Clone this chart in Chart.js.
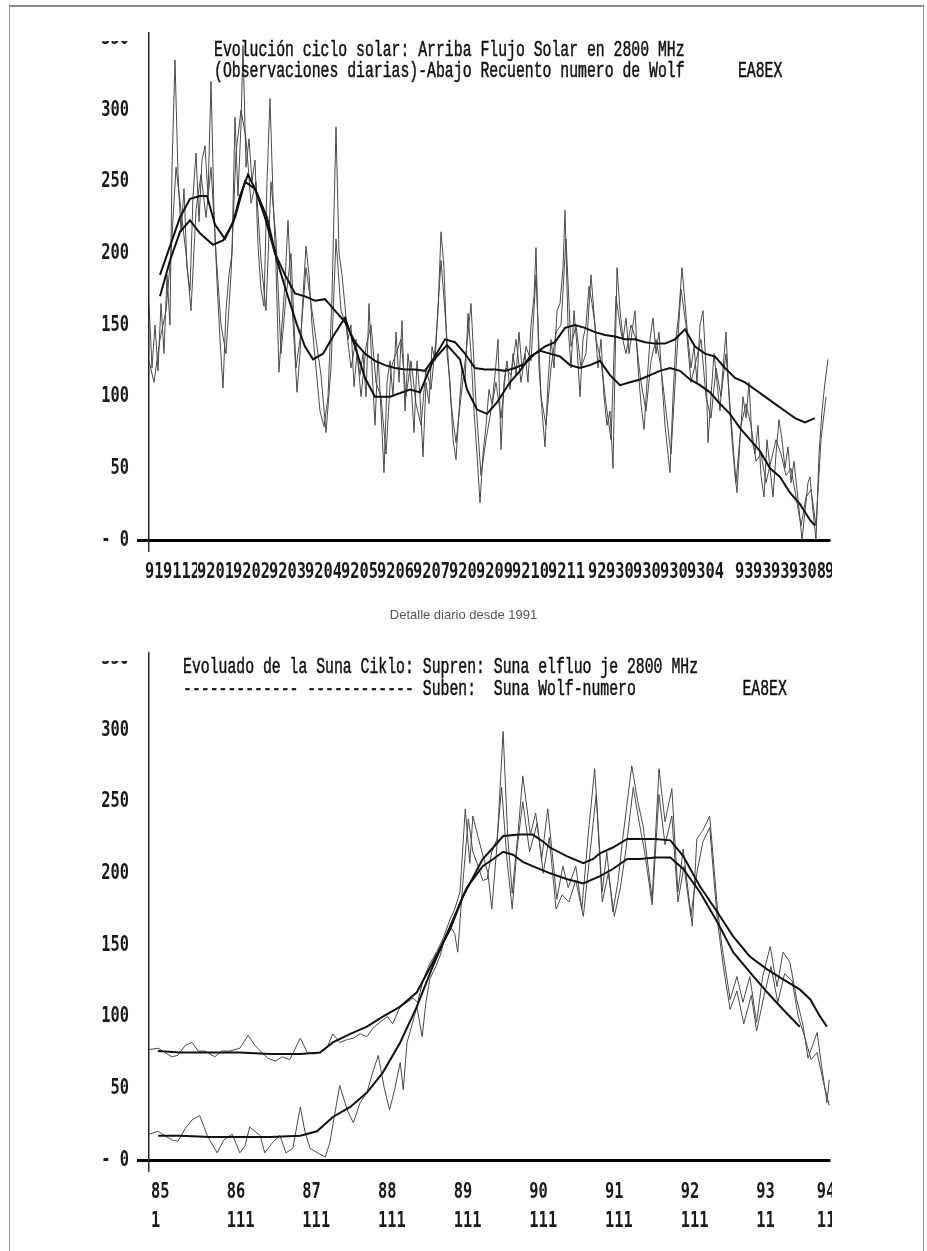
<!DOCTYPE html>
<html>
<head>
<meta charset="utf-8">
<script src="https://cdn.jsdelivr.net/npm/chart.js@4"></script>
<style>
html,body{margin:0;padding:0;background:#fff;}
body{width:927px;height:1251px;position:relative;overflow:hidden;}
#frame{position:absolute;left:9px;top:5px;width:913px;height:1260px;border-top:2px solid #8c8c8c;border-left:1px solid #9a9a9a;border-right:1px solid #9a9a9a;}
canvas{position:absolute;left:0;}
#c1{top:0;}
#c2{top:600px;}
.t{position:absolute;font-family:'Liberation Mono','DejaVu Sans Mono',monospace;font-size:14.8px;line-height:16px;white-space:pre;color:#111;-webkit-text-stroke:0.35px #111;transform:scaleY(1.5);transform-origin:0 50%;}
.mask{position:absolute;background:#fff;}
#cap{position:absolute;left:0;width:927px;top:607px;text-align:center;font:13px 'Liberation Sans',Arial,sans-serif;color:#555;}
</style>
</head>
<body>
<div id="frame"></div>
<canvas id="c1" width="832" height="600"></canvas>
<canvas id="c2" width="832" height="651"></canvas>
<div class="mask" style="left:92px;top:9px;width:48px;height:32px;"></div>
<div class="mask" style="left:92px;top:630px;width:48px;height:31px;"></div>
<div class="t" style="left:214px;top:42px;">Evolución ciclo solar: Arriba Flujo Solar en 2800 MHz</div>
<div class="t" style="left:214px;top:63px;">(Observaciones diarias)-Abajo Recuento numero de Wolf      EA8EX</div>
<div id="cap">Detalle diario desde 1991</div>
<div class="t" style="left:183px;top:659px;">Evoluado de la Suna Ciklo: Supren: Suna elfluo je 2800 MHz</div>
<div class="t" style="left:183px;top:681px;">------------- ------------ Suben:  Suna Wolf-numero            EA8EX</div>
<script>
// ---------------- TOP CHART (daily, day index since start of Nov 1991) ----------------
const topTickDays   = [0,18,52,88,124,160,196,232,268,304,331,367,403,443,461,488,515,542,590,608,626,644,680];
const topTickLabels = ["9111","9112","9201","9202","9203","9204","9205","9206","9207","9208","9209","9210","9211","9212","9301","9302","9303","9304","9305","9306","9307","9308","9309"];
const yTickValues   = [0,50,100,150,200,250,300,350];

const topFluxDays = [0,3,6,9,12,15,18,21,23,26,29,32,35,38,41,44,47,50,53,56,59,62,65,68,71,74,77,80,83,86,89,92,94,97,100,103,106,109,112,115,118,121,124,127,130,133,136,139,142,145,148,151,154,157,160,163,167,171,175,179,183,187,190,193,196,199,202,205,208,211,214,217,220,223,226,229,232,235,238,241,244,247,250,253,256,259,262,265,268,271,274,277,280,283,286,289,292,295,298,301,304,307,310,313,316,319,322,325,328,331,334,337,340,343,346,349,352,355,358,361,364,367,370,373,376,379,382,385,387,390,393,396,399,402,405,408,411,414,416,419,422,425,428,431,434,437,440,443,446,449,452,455,458,461,464,468,471,474,477,480,483,486,489,492,495,498,501,504,507,510,513,516,519,521,524,527,530,533,536,539,542,545,548,551,554,557,559,562,565,568,571,574,577,580,583,586,588,591,594,597,600,603,606,609,612,615,618,621,624,627,630,633,636,639,642,645,648,651,653,656,659,661,664,667,670,673,676,679];
const topFlux = [165,120,150,118,165,130,185,150,260,335,255,215,245,190,174,240,270,222,265,275,240,320,230,180,140,106,160,185,200,295,240,290,345,260,280,250,265,205,175,163,250,308,240,190,117,150,180,223,175,140,103,130,170,205,185,150,120,90,79,100,170,288,200,185,163,140,150,107,130,115,130,100,165,120,80,130,90,47,110,125,100,145,110,153,90,130,110,75,125,100,58,110,95,135,125,160,215,190,130,110,70,56,90,120,110,158,130,90,60,26,60,80,105,95,115,140,63,110,125,105,130,115,145,120,130,110,150,170,204,120,90,65,110,140,120,160,165,190,230,150,120,160,135,100,140,150,177,165,150,120,140,100,80,90,50,190,160,140,155,130,145,160,120,95,77,110,140,155,130,145,110,80,60,47,100,140,160,190,165,140,120,135,110,150,160,120,68,100,130,110,90,120,145,100,70,45,33,70,100,85,110,70,60,80,45,30,70,50,30,60,84,70,50,65,40,55,35,15,0,20,40,44,20,0,60,90,110,126];

const topWolfDays = [0,5,11,17,22,27,32,37,42,47,52,57,62,67,72,77,82,87,92,97,102,107,112,117,122,127,132,137,142,147,152,157,162,167,172,177,182,187,192,197,202,207,212,217,222,227,232,237,242,247,252,257,262,267,272,277,282,287,292,297,302,307,312,317,322,327,332,337,342,347,352,357,362,367,372,377,382,387,392,397,402,407,412,417,422,427,432,437,442,447,452,457,462,467,472,477,482,487,492,497,502,507,512,517,522,527,532,537,542,547,552,557,562,567,572,577,582,587,592,597,602,607,612,617,622,627,632,637,642,647,652,657,662,667,672,677];
const topWolf = [125,110,140,160,200,260,230,200,160,230,255,225,260,200,150,130,185,270,300,280,235,250,195,160,250,210,130,170,200,120,145,190,165,140,115,75,120,210,160,150,120,140,100,135,150,110,100,60,120,130,140,100,125,95,80,120,105,140,195,150,95,68,100,130,165,95,45,70,90,110,85,120,115,140,110,135,125,185,100,80,120,145,150,210,135,150,120,130,185,140,125,95,70,170,145,130,150,140,110,90,125,140,120,90,60,120,175,150,110,125,140,100,85,120,100,130,85,40,80,95,80,55,60,40,55,70,60,45,50,30,10,30,35,10,70,100];

const topFluxAvgDays = [11,21,31,41,51,58,66,76,86,96,106,116,126,136,146,156,166,176,186,196,206,216,226,236,246,256,266,276,286,296,306,316,326,336,346,356,366,376,386,396,406,416,426,436,446,456,466,476,486,496,506,516,526,536,546,556,566,576,586,596,606,616,626,636,646,656,666];
const topFluxAvg = [185,205,225,238,240,240,220,210,225,250,245,225,200,185,172,170,167,168,160,152,138,130,125,122,120,119,119,118,128,140,138,130,120,119,119,118,120,123,130,135,138,148,150,148,145,143,142,140,140,138,137,137,140,147,135,130,128,120,113,110,105,100,95,90,85,82,85];

const topWolfAvgDays = [11,21,31,41,51,64,74,84,91,99,108,118,128,138,148,156,164,174,184,196,206,216,226,241,261,271,284,298,311,318,328,338,348,361,371,381,391,401,411,421,431,441,451,461,471,481,491,501,511,521,531,541,551,561,571,581,591,601,611,621,631,641,651,661,666];
const topWolfAvg = [170,195,215,223,214,206,209,221,240,255,242,225,195,172,150,135,126,130,142,155,135,113,100,100,105,103,125,136,126,105,91,88,96,110,118,128,132,130,128,122,120,122,125,115,108,110,112,115,118,120,118,112,108,103,95,88,78,70,62,50,44,33,25,14,10];

// ---------------- BOTTOM CHART (monthly, 1985-1994) ----------------
const botTickYears  = [1985,1986,1987,1988,1989,1990,1991,1992,1993,1993.8];
const botTickLabels = [["85","1"],["86","111"],["87","111"],["88","111"],["89","111"],["90","111"],["91","111"],["92","111"],["93","11"],["94","11"]];

const botFluxYears = [1985.00,1985.12,1985.21,1985.30,1985.38,1985.48,1985.57,1985.65,1985.74,1985.87,1985.96,1986.07,1986.20,1986.31,1986.40,1986.49,1986.57,1986.67,1986.76,1986.86,1987.00,1987.09,1987.17,1987.26,1987.35,1987.43,1987.52,1987.62,1987.70,1987.79,1987.88,1987.96,1988.05,1988.15,1988.22,1988.32,1988.41,1988.49,1988.55,1988.62,1988.71,1988.81,1988.89,1988.98,1989.04,1989.11,1989.18,1989.24,1989.28,1989.35,1989.41,1989.48,1989.53,1989.60,1989.68,1989.74,1989.80,1989.88,1989.94,1990.04,1990.11,1990.19,1990.27,1990.39,1990.47,1990.54,1990.64,1990.72,1990.81,1990.89,1990.99,1991.05,1991.13,1991.20,1991.26,1991.38,1991.46,1991.53,1991.65,1991.74,1991.82,1991.91,1991.99,1992.06,1992.18,1992.24,1992.32,1992.41,1992.51,1992.57,1992.68,1992.77,1992.85,1992.94,1993.03,1993.11,1993.21,1993.30,1993.38,1993.47,1993.56,1993.64,1993.71,1993.77,1993.83,1993.89,1993.96,1993.99];
const botFlux = [77,78,75,72,73,80,82,76,76,72,76,76,78,87,80,75,71,69,72,70,85,75,74,75,78,88,82,84,85,88,86,92,96,100,95,107,110,113,110,125,137,146,155,168,175,187,245,207,240,225,213,200,175,220,299,226,186,230,268,227,242,210,245,182,205,190,205,175,230,273,187,215,173,195,224,275,250,233,182,273,236,259,187,217,163,224,230,240,177,150,112,128,110,128,96,128,149,121,145,138,112,95,71,80,89,65,40,56];

const botWolfYears = [1985.00,1985.12,1985.21,1985.30,1985.38,1985.48,1985.57,1985.67,1985.77,1985.90,1985.99,1986.10,1986.20,1986.27,1986.33,1986.40,1986.47,1986.53,1986.63,1986.73,1986.81,1986.90,1987.00,1987.06,1987.13,1987.23,1987.33,1987.39,1987.52,1987.62,1987.70,1987.79,1987.88,1987.95,1988.03,1988.11,1988.18,1988.25,1988.32,1988.36,1988.41,1988.48,1988.54,1988.61,1988.66,1988.71,1988.79,1988.85,1988.91,1988.98,1989.04,1989.08,1989.15,1989.22,1989.28,1989.35,1989.41,1989.47,1989.53,1989.60,1989.66,1989.73,1989.80,1989.86,1989.94,1990.03,1990.13,1990.21,1990.29,1990.38,1990.46,1990.55,1990.64,1990.74,1990.83,1990.91,1990.99,1991.07,1991.15,1991.23,1991.30,1991.40,1991.48,1991.55,1991.65,1991.74,1991.82,1991.91,1991.99,1992.07,1992.16,1992.24,1992.32,1992.41,1992.51,1992.59,1992.68,1992.77,1992.86,1992.96,1993.03,1993.13,1993.22,1993.31,1993.40,1993.50,1993.58,1993.67,1993.75,1993.83,1993.91,1993.99];
const botWolf = [18,20,17,14,13,22,28,31,17,5,14,18,5,10,23,20,17,5,12,17,5,8,37,20,8,5,2,12,52,35,26,40,47,60,73,50,35,50,68,49,82,95,107,86,110,126,135,143,155,163,158,145,195,238,215,205,195,196,215,224,260,210,175,215,250,215,235,200,225,175,185,180,195,170,215,255,180,200,170,190,215,260,235,215,178,255,220,240,180,205,170,200,222,232,168,135,105,118,95,115,90,115,135,110,130,125,100,85,70,75,55,38];

const botFluxAvgYears = [1985.12,1985.41,1985.81,1986.20,1986.60,1987.00,1987.26,1987.43,1987.66,1987.88,1988.09,1988.32,1988.54,1988.75,1988.98,1989.15,1989.28,1989.41,1989.55,1989.68,1989.90,1990.07,1990.21,1990.30,1990.52,1990.74,1990.87,1990.96,1991.13,1991.32,1991.49,1991.69,1991.89,1992.06,1992.28,1992.51,1992.72,1992.94,1993.17,1993.38,1993.60,1993.74,1993.87,1993.96];
const botFluxAvg = [76,75,75,75,74,74,75,82,88,93,100,107,117,138,161,184,197,210,218,226,227,227,222,218,212,207,210,214,218,224,224,224,223,212,191,173,156,142,133,126,119,112,100,93];

const botWolfAvgYears = [1985.12,1985.41,1985.81,1986.20,1986.60,1987.00,1987.22,1987.43,1987.66,1987.88,1988.09,1988.32,1988.54,1988.75,1988.98,1989.20,1989.41,1989.55,1989.68,1989.81,1989.94,1990.07,1990.30,1990.52,1990.74,1990.96,1991.13,1991.32,1991.49,1991.69,1991.89,1992.06,1992.28,1992.51,1992.72,1992.94,1993.17,1993.38,1993.60];
const botWolfAvg = [17,17,16,16,16,17,20,30,37,47,61,82,107,135,163,190,205,210,215,213,208,205,200,196,193,198,203,210,210,211,211,203,187,166,145,131,117,105,93];

// ---------------- helpers ----------------
const pts = (xs, ys) => xs.map((x, i) => ({x: x, y: ys[i]}));
const tickFont = {family: "'DejaVu Sans Mono','Liberation Mono',monospace", size: 22, weight: 'bold', lineHeight: 1.3};
const INK = '#1a1a1a';
const CONDENSE = 0.7;   // printer font is tall and narrow

// the axis labels of the original are a tall, narrow printer font:
// squeeze every text the chart draws horizontally around its own anchor
function condenseText(canvas, sx) {
  const ctx = canvas.getContext('2d');
  const orig = ctx.fillText;
  ctx.fillText = function (text, x, y, maxWidth) {
    this.save();
    this.translate(x, y);
    this.scale(sx, 1);
    if (maxWidth === undefined || maxWidth === null) orig.call(this, text, 0, 0);
    else orig.call(this, text, 0, 0, maxWidth / sx);
    this.restore();
  };
}

function makeOptions(cfg) {
  return {
    responsive: false, animation: false, devicePixelRatio: 1,
    layout: {padding: {top: cfg.padTop, left: 0, right: 2, bottom: 0}},
    plugins: {legend: {display: false}, tooltip: {enabled: false}, title: {display: false}},
    elements: {point: {radius: 0}, line: {tension: 0}},
    scales: {
      x: {
        type: 'linear', min: cfg.xmin, max: cfg.xmax,
        afterBuildTicks: s => { s.ticks = cfg.tickVals.map(v => ({value: v})); },
        afterFit: s => { s.height = cfg.xHeight; s.paddingLeft = 0; s.paddingRight = 0; },
        ticks: {
          autoSkip: false, maxRotation: 0, minRotation: 0, align: 'start',
          labelOffset: cfg.labelOffset, padding: 6, color: INK, font: tickFont,
          callback: (v, i) => cfg.tickLabels[i],
          showLabelBackdrop: cfg.backdrop, backdropColor: '#ffffff', backdropPadding: 0
        },
        grid: {drawOnChartArea: false, drawTicks: true, tickLength: 12,
               color: c => c.index === 0 ? '#333' : 'rgba(0,0,0,0)', lineWidth: 1.5},
        border: {display: true, color: '#000', width: 3}
      },
      y: {
        type: 'linear', min: 0, max: 353.7,
        afterBuildTicks: s => { s.ticks = yTickValues.map(v => ({value: v})); },
        afterFit: s => { s.width = 149; s.paddingTop = 0; s.paddingBottom = 0; },
        ticks: {padding: 8, color: INK, font: tickFont,
                callback: v => v === 0 ? '- 0' : String(v)},
        grid: {drawOnChartArea: false, drawTicks: true, tickLength: 12,
               color: c => (c.tick && c.tick.value === 0) ? '#000' : 'rgba(0,0,0,0)', lineWidth: 3},
        border: {display: true, color: '#222', width: 1.5}
      }
    }
  };
}

const smoothStyle = {borderColor: '#111', borderWidth: 2, fill: false};
const noisyStyle  = {borderColor: '#4a4a4a', borderWidth: 1, fill: false};

const cv1 = document.getElementById('c1');
const cv2 = document.getElementById('c2');
condenseText(cv1, CONDENSE);
condenseText(cv2, CONDENSE);

new Chart(cv1, {
  type: 'line',
  data: {datasets: [
    Object.assign({label: 'Flujo (media)', data: pts(topFluxAvgDays, topFluxAvg)}, smoothStyle),
    Object.assign({label: 'Wolf (media)', data: pts(topWolfAvgDays, topWolfAvg)}, smoothStyle),
    Object.assign({label: 'Flujo diario', data: pts(topFluxDays, topFlux)}, noisyStyle),
    Object.assign({label: 'Wolf diario', data: pts(topWolfDays, topWolf)}, noisyStyle)
  ]},
  options: makeOptions({padTop: 33, xmin: 0, xmax: 681, tickVals: topTickDays, tickLabels: topTickLabels,
                        xHeight: 60, labelOffset: -4, backdrop: true})
});

new Chart(cv2, {
  type: 'line',
  data: {datasets: [
    Object.assign({label: 'Flujo (media)', data: pts(botFluxAvgYears, botFluxAvg)}, smoothStyle),
    Object.assign({label: 'Wolf (media)', data: pts(botWolfAvgYears, botWolfAvg)}, smoothStyle),
    Object.assign({label: 'Flujo', data: pts(botFluxYears, botFlux)}, noisyStyle),
    Object.assign({label: 'Wolf', data: pts(botWolfYears, botWolf)}, noisyStyle)
  ]},
  options: makeOptions({padTop: 53, xmin: 1985, xmax: 1994, tickVals: botTickYears, tickLabels: botTickLabels,
                        xHeight: 91, labelOffset: 2, backdrop: false})
});
</script>
</body>
</html>
